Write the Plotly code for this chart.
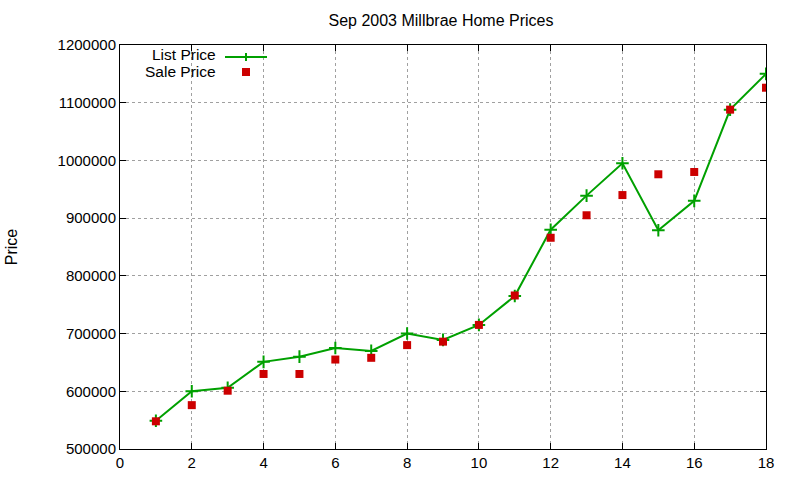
import plotly.graph_objects as go

months = list(range(1, 19))
list_price = [549000, 600000, 606000, 651000, 660000, 675000, 670000, 700000, 689000,
              715000, 765000, 880000, 939000, 995000, 879000, 930000, 1088000, 1150000]
sale_price = [548000, 576000, 601000, 630000, 630000, 655000, 658000, 680000, 686000,
              715000, 766000, 866000, 905000, 940000, 976000, 980000, 1088000, 1126000]
x_ticks = list(range(0, 19, 2))
y_ticks = list(range(500000, 1200001, 100000))

GREEN = "#00a000"
RED = "#cc0000"
FONT = "Liberation Sans, Arial, sans-serif"

fig = go.Figure()
fig.add_trace(go.Scatter(
    x=months, y=list_price, mode="lines+markers", name="List Price",
    line=dict(color=GREEN, width=2),
    marker=dict(symbol="cross-thin", size=9, line=dict(color=GREEN, width=2)),
    showlegend=False,
))
fig.add_trace(go.Scatter(
    x=months, y=sale_price, mode="markers", name="Sale Price",
    marker=dict(symbol="square", size=8, color=RED),
    showlegend=False,
))

W, H = 800, 480
L, R, T, B = 120, 34, 45, 31
pw, ph = W - L - R, H - T - B


def px(xp):
    return (xp - L) / pw


def py(yp):
    return (H - B - yp) / ph


axis_common = dict(
    showline=True, linecolor="black", linewidth=1, mirror="ticks",
    ticks="inside", ticklen=6, tickcolor="black", tickwidth=1,
    showgrid=True, gridcolor="#a0a0a0", griddash="dot", gridwidth=1,
    zeroline=False, automargin=False,
    tickfont=dict(family=FONT, size=15, color="black"),
)

fig.update_layout(
    width=W, height=H,
    margin=dict(l=L, r=R, t=T, b=B, autoexpand=False),
    paper_bgcolor="white", plot_bgcolor="white",
    font=dict(family=FONT, size=15, color="black"),
    title=dict(text="Sep 2003 Millbrae Home Prices", xref="container", x=441 / W,
               xanchor="center", y=1 - 20 / H, yanchor="middle",
               font=dict(family=FONT, size=16)),
    xaxis=dict(range=[0, 18], tickvals=x_ticks, **axis_common),
    yaxis=dict(range=[500000, 1200000], tickvals=y_ticks, tickformat="d",
               title=dict(text="Price", standoff=35, font=dict(family=FONT, size=16)),
               **axis_common),
)

# legend drawn gnuplot-style (text right, sample to the right)
fig.add_annotation(text="List Price", xref="paper", yref="paper", x=px(217), y=py(54),
                   xanchor="right", yanchor="middle", showarrow=False, borderpad=0,
                   font=dict(family=FONT, size=15.5))
fig.add_annotation(text="Sale Price", xref="paper", yref="paper", x=px(217), y=py(72),
                   xanchor="right", yanchor="middle", showarrow=False, borderpad=0,
                   font=dict(family=FONT, size=15.5))
fig.add_shape(type="line", xref="paper", yref="paper", x0=px(225), x1=px(267),
              y0=py(57), y1=py(57), line=dict(color=GREEN, width=2))
fig.add_shape(type="line", xref="paper", yref="paper", x0=px(246), x1=px(246),
              y0=py(53), y1=py(61), line=dict(color=GREEN, width=2))
fig.add_shape(type="rect", xref="paper", yref="paper", x0=px(242), x1=px(250),
              y0=py(68), y1=py(76), line=dict(width=0), fillcolor=RED)

fig.write_html("out.html", config={"displayModeBar": False},
               post_script="document.body.style.margin='0';")
